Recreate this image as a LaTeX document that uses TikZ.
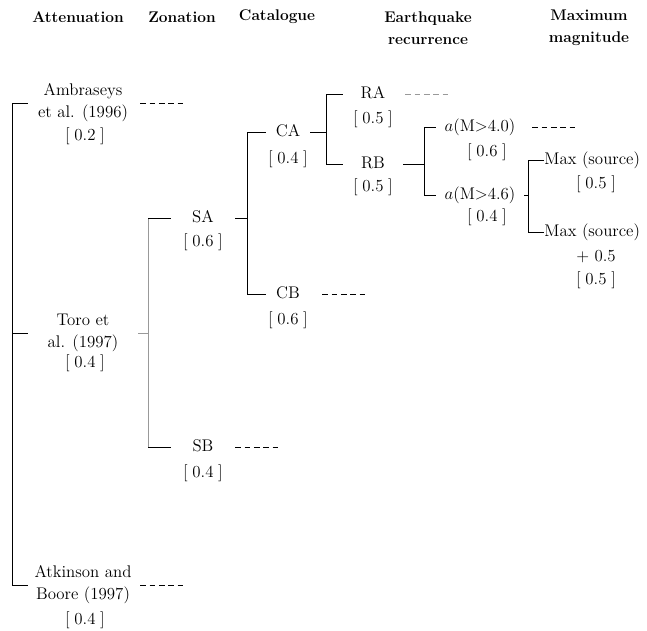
\documentclass[tikz,border=0pt]{standalone}
\usepackage{amsmath}
\usepackage{xcolor}
\usepackage{tikz}
\usetikzlibrary{positioning,calc}

\begin{document}
\begin{tikzpicture}[
    line width=0.6pt,
    every node/.style={font=\fontsize{12}{15.6}\selectfont},
    head/.style={font=\fontsize{11}{15.6}\selectfont\bfseries, align=center},
    attn/.style={align=center, inner sep=0pt, minimum width=2.75cm},
    zone/.style={inner sep=0pt, text height=8.5pt, text depth=2.5pt, minimum width=1.6cm},
    cata/.style={inner sep=0pt, text height=8.5pt, text depth=2.5pt, minimum width=1.1cm},
    recu/.style={inner sep=0pt, text height=8.5pt, text depth=2.5pt, minimum width=1.5cm},
    aval/.style={inner sep=0pt, text height=8.5pt, text depth=2.5pt, minimum width=2.2cm},
    maxm/.style={inner sep=0pt, text height=8.5pt, text depth=2.5pt, anchor=west},
    prob/.style={inner sep=0pt},
    dashline/.style={dash pattern=on 4pt off 2.6pt},
    greyline/.style={draw=black!40}]
    \useasboundingbox (0,0) rectangle (16.175,15.775);

    % Column headers
    \node[head] (hatt) at (1.95,15.35) {Attenuation};
    \node[head] (hzon) at (4.55,15.35) {Zonation};
    \node[head] (hcat) at (6.925,15.35) {Catalogue};
    \node[head] (hrec) at (10.7,15.075) {Earthquake\\recurrence};
    \node[head] (hmax) at (14.725,15.075) {Maximum\\magnitude};

    % Attenuation
    \coordinate (att) at (0.3,0);
    \node[attn] (amb) at (2.075,13.2) {Ambraseys\\et al. (1996)};
    \node[prob] (amb-p) at (2.125,12.375) {[\;0.2\;]};
    \node[attn] (toro) at (2.075,7.45) {Toro et\\al. (1997)};
    \node[prob] (toro-p) at (2.125,6.7) {[\;0.4\;]};
    \node[attn] (atk) at (2.075,1.15) {Atkinson and\\Boore (1997)};
    \node[prob] (atk-p) at (2.125,0.275) {[\;0.4\;]};
    \draw (amb.west) -- (amb.west -| att) -- (atk.west -| att) -- (atk.west);
    \draw (toro.west) -- (toro.west -| att);
    \draw[dashline] ([xshift=0.05cm]amb.east) -- ++(1.125,0);
    \draw[dashline] ([xshift=0.05cm]atk.east) -- ++(1.125,0);

    % Zonation
    \coordinate (zon) at (3.7,0);
    \node[zone] (sa) at (5.075,10.325) {SA};
    \node[prob] (sa-p) at (5.075,9.725) {[\;0.6\;]};
    \node[zone] (sb) at (5.075,4.6) {SB};
    \node[prob] (sb-p) at (5.075,3.95) {[\;0.4\;]};
    \draw[greyline] (toro.east) -- (toro.east -| zon);
    \draw[greyline] (sa.west -| zon) -- (sb.west -| zon);
    \draw (sa.west) -- (sa.west -| zon);
    \draw (sb.west) -- (sb.west -| zon);
    \draw[dashline] (sb.east) -- ++(1.075,0);

    % Catalogue
    \coordinate (cat) at (6.175,0);
    \node[cata] (ca) at (7.2,12.475) {CA};
    \node[prob] (ca-p) at (7.2,11.8) {[\;0.4\;]};
    \node[cata] (cb) at (7.2,8.425) {CB};
    \node[prob] (cb-p) at (7.2,7.775) {[\;0.6\;]};
    \draw (sa.east) -- (sa.east -| cat);
    \draw (ca.west) -- (ca.west -| cat) -- (cb.west -| cat) -- (cb.west);
    \draw[dashline] ([xshift=0.3cm]cb.east) -- ++(1.125,0);

    % Earthquake recurrence
    \coordinate (rec) at (8.15,0);
    \node[recu] (ra) at (9.325,13.425) {RA};
    \node[prob] (ra-p) at (9.325,12.8) {[\;0.5\;]};
    \node[recu] (rb) at (9.325,11.675) {RB};
    \node[prob] (rb-p) at (9.325,11.1) {[\;0.5\;]};
    \draw (ca.east) -- (ca.east -| rec);
    \draw (ra.west) -- (ra.west -| rec) -- (rb.west -| rec) -- (rb.west);
    \draw[dashline, greyline] ([xshift=0.05cm]ra.east) -- ++(1.125,0);

    \coordinate (agr) at (10.6,0);
    \node[aval] (a40) at (12.0,12.6) {$a$(M$>$4.0)};
    \node[prob] (a40-p) at (12.175,11.975) {[\;0.6\;]};
    \node[aval] (a46) at (12.0,10.9) {$a$(M$>$4.6)};
    \node[prob] (a46-p) at (12.175,10.35) {[\;0.4\;]};
    \draw (rb.east) -- (rb.east -| agr);
    \draw (a40.west) -- (a40.west -| agr) -- (a46.west -| agr) -- (a46.west);
    \draw[dashline] ([xshift=0.2cm]a40.east) -- ++(1.075,0);

    % Maximum magnitude
    \coordinate (mmx) at (13.2,0);
    \node[maxm] (mx1) at (13.6,11.775) {Max (source)};
    \node[prob] (mx1-p) at (14.9,11.175) {[\;0.5\;]};
    \node[maxm] (mx2) at (13.6,9.975) {Max (source)};
    \node[prob] (mx2-q) at (14.9,9.35) {+ 0.5};
    \node[prob] (mx2-p) at (14.9,8.775) {[\;0.5\;]};
    \draw (a46.east) -- (a46.east -| mmx);
    \draw (mx1.west) -- (mx1.west -| mmx) -- (mx2.west -| mmx) -- (mx2.west);
\end{tikzpicture}
\end{document}
